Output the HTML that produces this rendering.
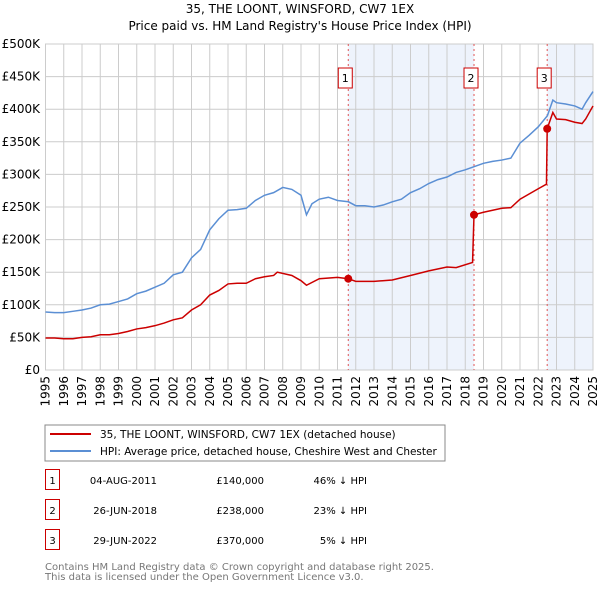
<!DOCTYPE html>
<html><head><meta charset="utf-8"><style>
body{margin:0;background:#fff;width:600px;height:590px;overflow:hidden;font-family:"DejaVu Sans","Liberation Sans",sans-serif;}
svg text{font-family:"DejaVu Sans","Liberation Sans",sans-serif;}
</style></head><body>
<svg id="chart" width="600" height="590" xmlns="http://www.w3.org/2000/svg">
<text x="300" y="13" text-anchor="middle" font-size="12">35, THE LOONT, WINSFORD, CW7 1EX</text>
<text x="300" y="30" text-anchor="middle" font-size="12">Price paid vs. HM Land Registry's House Price Index (HPI)</text>
<g id="plot"></g>
<rect x="45" y="425" width="400" height="36" fill="none" stroke="#888"/>
<line x1="50" y1="434" x2="91" y2="434" stroke="#cc0000" stroke-width="2"/>
<text x="100" y="438" font-size="10.5">35, THE LOONT, WINSFORD, CW7 1EX (detached house)</text>
<line x1="50" y1="451" x2="91" y2="451" stroke="#5b8fd4" stroke-width="2"/>
<text x="100" y="455" font-size="10.5">HPI: Average price, detached house, Cheshire West and Chester</text>
<g id="table" font-size="10"></g>
<text x="45" y="570" font-size="10" fill="#777">Contains HM Land Registry data © Crown copyright and database right 2025.</text>
<text x="45" y="580" font-size="10" fill="#777">This data is licensed under the Open Government Licence v3.0.</text>
</svg>
<script>
const hpiYears=[1995,1995.5,1996,1996.5,1997,1997.5,1998,1998.5,1999,1999.5,2000,2000.5,2001,2001.5,2002,2002.5,2003,2003.5,2004,2004.5,2005,2005.5,2006,2006.5,2007,2007.5,2008,2008.5,2009,2009.3,2009.6,2010,2010.5,2011,2011.6,2012,2012.5,2013,2013.5,2014,2014.5,2015,2015.5,2016,2016.5,2017,2017.5,2018,2018.5,2019,2019.5,2020,2020.5,2021,2021.5,2022,2022.5,2022.8,2023,2023.5,2024,2024.4,2024.6,2025];
const hpiValues=[89,88,88,90,92,95,100,101,105,109,117,121,127,133,146,150,172,185,215,232,245,246,248,260,268,272,280,277,268,238,255,262,265,260,258,252,252,250,253,258,262,272,278,286,292,296,303,307,312,317,320,322,325,348,360,373,390,414,410,408,405,400,410,427];
const ppYears=[1995,1995.5,1996,1996.5,1997,1997.5,1998,1998.5,1999,1999.5,2000,2000.5,2001,2001.5,2002,2002.5,2003,2003.5,2004,2004.5,2005,2005.5,2006,2006.5,2007,2007.5,2007.7,2008.5,2009,2009.3,2010,2011,2011.59,2012,2013,2014,2015,2016,2017,2017.5,2018.4,2018.48,2019,2020,2020.5,2021,2022,2022.45,2022.49,2022.8,2023,2023.5,2024,2024.4,2024.6,2025];
const ppValues=[49,49,48,48,50,51,54,54,56,59,63,65,68,72,77,80,92,100,115,122,132,133,133,140,143,145,150,145,137,130,140,142,140,136,136,138,145,152,158,157,165,238,242,248,249,262,278,285,370,395,385,384,380,378,385,405];
const saleYears=[2011.59,2018.48,2022.49];
const saleValues=[140,238,370];
const saleLabels=["1","2","3"];
const saleDates=["04-AUG-2011","26-JUN-2018","29-JUN-2022"];
const salePrices=["£140,000","£238,000","£370,000"];
const saleDiffs=["46% ↓ HPI","23% ↓ HPI","5% ↓ HPI"];
const yTicks=[0,50,100,150,200,250,300,350,400,450,500];
const xTicks=[1995,1996,1997,1998,1999,2000,2001,2002,2003,2004,2005,2006,2007,2008,2009,2010,2011,2012,2013,2014,2015,2016,2017,2018,2019,2020,2021,2022,2023,2024,2025];

const X0=45.5,X1=593,Y0=370,Y1=44;
const sx=y=>X0+(y-1995)/30*(X1-X0);
const sy=v=>Y0-v/500*(Y0-Y1);
const NS="http://www.w3.org/2000/svg";
const plot=document.getElementById('plot');
function mk(tag,attrs,parent){const e=document.createElementNS(NS,tag);for(const k in attrs)e.setAttribute(k,attrs[k]);(parent||plot).appendChild(e);return e;}

let e;
e=mk('rect',{x:sx(saleYears[0]),y:Y1,width:sx(saleYears[1])-sx(saleYears[0]),height:Y0-Y1,fill:'#eef3fc'});


e=mk('rect',{x:sx(saleYears[2]),y:Y1,width:X1-sx(saleYears[2]),height:Y0-Y1,fill:'#eef3fc'});



yTicks.forEach(t=>{
  e=mk('line',{x1:X0,x2:X1,y1:sy(t),y2:sy(t),stroke:'#ccc'});
  
  
  e=mk('text',{x:40,y:sy(t)+4,'text-anchor':'end','font-size':12});
  e.textContent=t===0?'£0':'£'+t+'K';
  
  
});
xTicks.forEach(t=>{
  e=mk('line',{x1:sx(t),x2:sx(t),y1:Y1,y2:Y0,stroke:'#ccc'});
  
  
  e=mk('text',{x:0,y:0,'text-anchor':'end','font-size':12,transform:`translate(${sx(t)+4},${Y0+6}) rotate(-90)`});
  e.textContent=t;
  
  
});
e=mk('rect',{x:X0,y:Y1,width:X1-X0,height:Y0-Y1,fill:'none',stroke:'#ccc'});



saleYears.forEach((y,i)=>{
  e=mk('line',{x1:sx(y),x2:sx(y),y1:Y1,y2:Y0,stroke:'#e05555','stroke-dasharray':'2,3'});
  
  
  e=mk('rect',{x:sx(y)-10,y:68,width:14,height:20,fill:'#fff',stroke:'#cc0000'});
  
  
  e=mk('text',{x:sx(y)-3,y:82,'text-anchor':'middle','font-size':11});
  e.textContent=saleLabels[i];
  
  
});

e=mk('polyline',{points:hpiYears.map((y,i)=>sx(y)+','+sy(hpiValues[i])).join(' '),fill:'none',stroke:'#5b8fd4','stroke-width':1.5});


e=mk('polyline',{points:ppYears.map((y,i)=>sx(y)+','+sy(ppValues[i])).join(' '),fill:'none',stroke:'#cc0000','stroke-width':1.5});


saleYears.forEach((y,i)=>{
  e=mk('circle',{cx:sx(y),cy:sy(saleValues[i]),r:4,fill:'#cc0000'});
  
  
});

const tbl=document.getElementById('table');
saleLabels.forEach((l,i)=>{
  const yy=483+i*30;
  e=mk('rect',{x:45.5,y:yy-13.5,width:14,height:20,fill:'none',stroke:'#cc0000'},tbl);
  
  
  e=mk('text',{x:52.5,y:yy+1,'text-anchor':'middle'},tbl);e.textContent=l;
  
  
  e=mk('text',{x:157,y:yy+1,'text-anchor':'end'},tbl);e.textContent=saleDates[i];
  
  
  e=mk('text',{x:264,y:yy+1,'text-anchor':'end'},tbl);e.textContent=salePrices[i];
  
  
  e=mk('text',{x:367,y:yy+1,'text-anchor':'end'},tbl);e.textContent=saleDiffs[i];
  
  
});
</script>
</body></html>
